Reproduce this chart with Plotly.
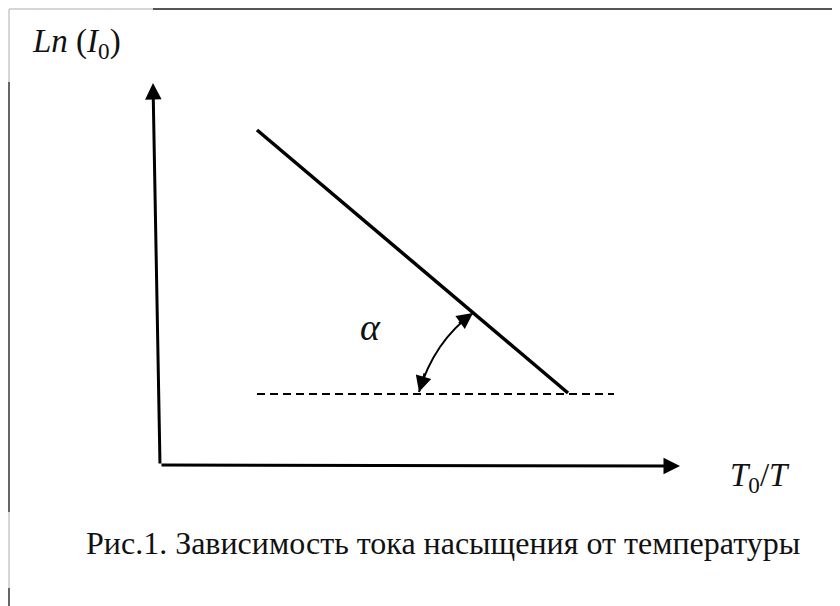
"""Schematic: saturation current vs temperature (Ln(I0) against T0/T)."""
import plotly.graph_objects as go

# data coordinates: origin at the corner of the axes
axis_x_tip = [520, -1]
axis_y_tip = [-7, 382]
line_x = [97, 408]
line_y = [335, 72]
base_x = [97, 454]
base_y = [71, 71]
# angle arc: start, control, end
arc_x = [259, 274, 313]
arc_y = [73, 123.5, 152]

caption = "Рис.1. Зависимость тока насыщения от температуры"
ylabel = "<i>Ln</i> (<i>I</i><sub>0</sub>)"
xlabel = "<i>T</i><sub>0</sub>/<i>T</i>"
angle_label = "<i>α</i>"

SERIF = "Liberation Serif"
INK = "#111111"
W, H = 832, 598  # page body keeps an 8px margin


def px(v, total):
    return v / total


fig = go.Figure()

fig.add_trace(go.Scatter(
    x=base_x, y=base_y, mode="lines",
    line=dict(color="black", width=2, dash="8px,5px"),
    hoverinfo="skip",
))
fig.add_trace(go.Scatter(
    x=line_x, y=line_y, mode="lines",
    line=dict(color="black", width=3.5),
    hoverinfo="skip",
))

# angle arc
fig.add_shape(type="path", xref="x", yref="y",
              path=f"M {arc_x[0]},{arc_y[0]} Q {arc_x[1]},{arc_y[1]} {arc_x[2]},{arc_y[2]}",
              line=dict(color="black", width=2))

# scanned page border
border = [
    (1, 145, 1, 1, "#c8c8c8", 1.5),
    (145, W, 1, 1, "#555555", 2),
    (1, 1, 1, 74, "#c8c8c8", 1.5),
    (1, 1, 74, 504, "#333333", 1.5),
    (1, 1, 504, 580, "#c8c8c8", 1.5),
    (1, 1, 580, H, "#333333", 1.5),
]
for x0, x1, y0, y1, c, w in border:
    fig.add_shape(type="line", xref="paper", yref="paper",
                  x0=px(x0, W), x1=px(x1, W), y0=1 - px(y0, H), y1=1 - px(y1, H),
                  line=dict(color=c, width=w))


def arrow(head_x, head_y, tail_x, tail_y, width, size):
    fig.add_annotation(x=head_x, y=head_y, ax=tail_x, ay=tail_y,
                       xref="x", yref="y", axref="x", ayref="y",
                       text="", showarrow=True, arrowhead=2, arrowsize=size,
                       arrowwidth=width, arrowcolor="black", standoff=0)


def arc_tail(i_end, i_ctrl, k=0.4):
    return (arc_x[i_end] + (arc_x[i_ctrl] - arc_x[i_end]) * k,
            arc_y[i_end] + (arc_y[i_ctrl] - arc_y[i_end]) * k)


arrow(axis_y_tip[0], axis_y_tip[1], 0, 0, 3, 1.1)
arrow(axis_x_tip[0], axis_x_tip[1], 0, 0, 3, 1.1)
t0 = arc_tail(0, 1)
t1 = arc_tail(2, 1)
arrow(arc_x[0], arc_y[0], t0[0], t0[1], 2, 1.6)
arrow(arc_x[2], arc_y[2], t1[0], t1[1], 2, 1.6)

fig.add_annotation(x=-130, y=422, xref="x", yref="y", text=ylabel, showarrow=False,
                   xanchor="left", yanchor="middle", font=dict(family=SERIF, size=33, color=INK))
fig.add_annotation(x=568, y=-12, xref="x", yref="y", text=xlabel, showarrow=False,
                   xanchor="left", yanchor="middle", font=dict(family=SERIF, size=33, color=INK))
fig.add_annotation(x=210, y=138, xref="x", yref="y", text=angle_label, showarrow=False,
                   xanchor="center", yanchor="middle", font=dict(family=SERIF, size=38, color=INK))
fig.add_annotation(x=283, y=-78, xref="x", yref="y", text=caption, showarrow=False,
                   xanchor="center", yanchor="middle", font=dict(family=SERIF, size=32, color=INK))

fig.update_layout(
    width=W, height=H,
    margin=dict(l=0, r=0, t=0, b=0),
    paper_bgcolor="white", plot_bgcolor="white",
    showlegend=False,
    xaxis=dict(range=[-152, 680], visible=False, fixedrange=True),
    yaxis=dict(range=[-141, 457], visible=False, fixedrange=True),
)

fig.write_html("out.html")
